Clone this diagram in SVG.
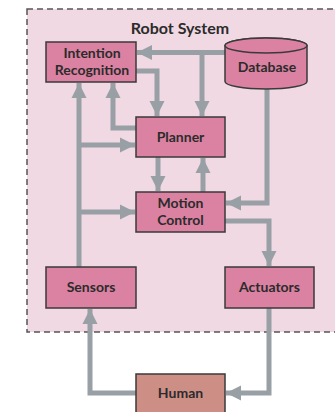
<svg xmlns="http://www.w3.org/2000/svg" width="335" height="412" viewBox="0 0 335 412">
<style>
.box{fill:#db82a2;stroke:#3a3a3a;stroke-width:1.5}
.human{fill:#cd8e86;stroke:#3a3a3a;stroke-width:1.5}
.lbl{font-family:Lato,"Open Sans","Liberation Sans",sans-serif;font-weight:bold;font-size:14px;fill:#2b2b2b;text-anchor:middle}
.c{fill:none;stroke:#98a0a6;stroke-width:5;marker-end:url(#ah)}
</style>
<defs>
<marker id="ah" markerUnits="userSpaceOnUse" markerWidth="16" markerHeight="16" viewBox="0 0 16 16" refX="15" refY="8" orient="auto">
<path d="M0,0.5 L15,8 L0,15.5 Z" fill="#98a0a6"/>
</marker>
</defs>
<rect x="27" y="9" width="310" height="323" fill="#f1d9e3" stroke="#555" stroke-width="1.5" stroke-dasharray="6,4"/>
<text class="lbl" x="180" y="34" style="font-size:16px">Robot System</text>
<g id="connectors">
<path class="c" d="M225,52.5 H137"/>
<path class="c" d="M202,52.5 V116"/>
<path class="c" d="M136,71 H157 V116"/>
<path class="c" d="M136,128 H113 V83"/>
<path class="c" d="M79,267 V83"/>
<path class="c" d="M79,145 H135"/>
<path class="c" d="M79,212 H135"/>
<path class="c" d="M158,157 V191"/>
<path class="c" d="M203,192 V158"/>
<path class="c" d="M267,89 V203 H226"/>
<path class="c" d="M225,221 H269 V266"/>
<path class="c" d="M269,308 V393 H226"/>
<path class="c" d="M136,393 H90 V309"/>
</g>
<g id="intention">
<rect class="box" x="46" y="42" width="90" height="40"/>
<text class="lbl" x="92" y="58">Intention</text>
<text class="lbl" x="92" y="75">Recognition</text>
</g>
<g id="database">
<path class="box" d="M225,45.5 V81.5 A41,7.5 0 0 0 307,81.5 V45.5 A41,7.5 0 0 0 225,45.5 Z"/>
<ellipse class="box" cx="266" cy="45.5" rx="41" ry="7.5"/>
<text class="lbl" x="267" y="72">Database</text>
</g>
<g id="planner">
<rect class="box" x="136" y="117" width="89" height="40"/>
<text class="lbl" x="180.5" y="142">Planner</text>
</g>
<g id="motion">
<rect class="box" x="136" y="192" width="89" height="40"/>
<text class="lbl" x="180.5" y="208">Motion</text>
<text class="lbl" x="180.5" y="225">Control</text>
</g>
<g id="sensors">
<rect class="box" x="46" y="267" width="90" height="41"/>
<text class="lbl" x="91" y="292">Sensors</text>
</g>
<g id="actuators">
<rect class="box" x="225" y="267" width="89" height="41"/>
<text class="lbl" x="269.5" y="292">Actuators</text>
</g>
<g id="human">
<rect class="human" x="136" y="374" width="89" height="42"/>
<text class="lbl" x="180.5" y="398">Human</text>
</g>
</svg>
